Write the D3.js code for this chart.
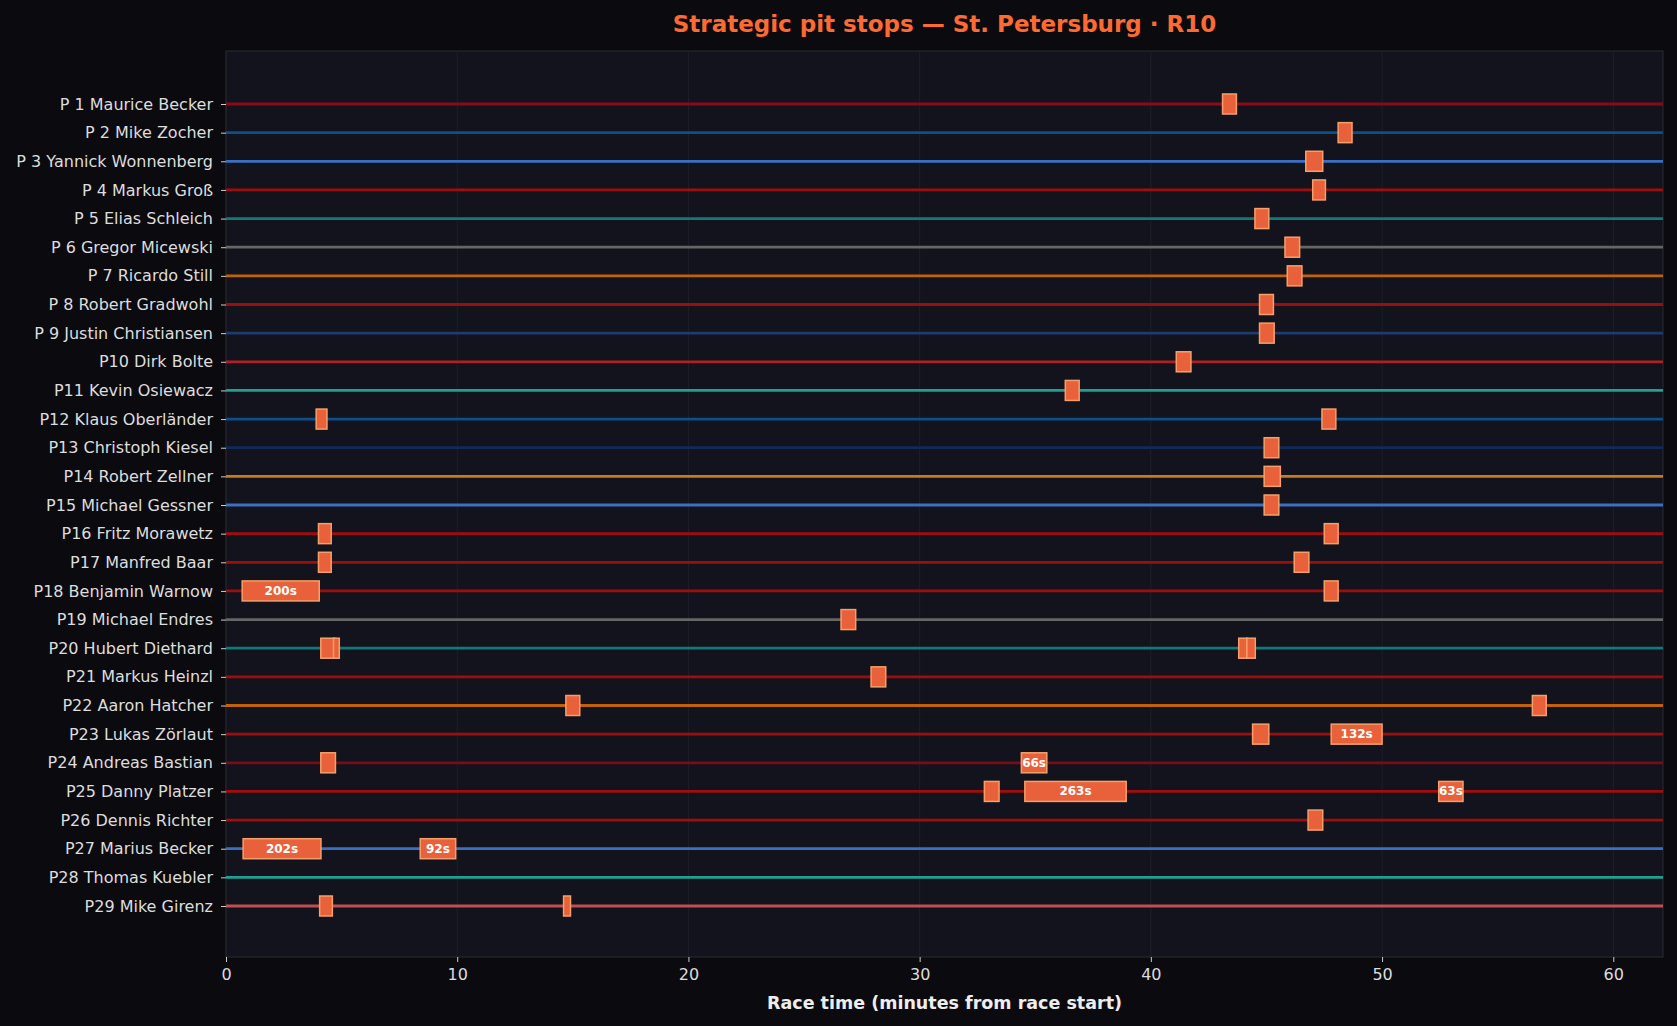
<!DOCTYPE html>
<html><head><meta charset="utf-8">
<script src="https://cdn.jsdelivr.net/npm/d3@7/dist/d3.min.js"></script>
<style>body{margin:0;background:#0b0b0f}svg{display:block}</style></head>
<body><svg id="c" width="1677" height="1026"></svg>
<script>
const drivers=["P 1 Maurice Becker","P 2 Mike Zocher","P 3 Yannick Wonnenberg","P 4 Markus Groß","P 5 Elias Schleich","P 6 Gregor Micewski","P 7 Ricardo Still","P 8 Robert Gradwohl","P 9 Justin Christiansen","P10 Dirk Bolte","P11 Kevin Osiewacz","P12 Klaus Oberländer","P13 Christoph Kiesel","P14 Robert Zellner","P15 Michael Gessner","P16 Fritz Morawetz","P17 Manfred Baar","P18 Benjamin Warnow","P19 Michael Endres","P20 Hubert Diethard","P21 Markus Heinzl","P22 Aaron Hatcher","P23 Lukas Zörlaut","P24 Andreas Bastian","P25 Danny Platzer","P26 Dennis Richter","P27 Marius Becker","P28 Thomas Kuebler","P29 Mike Girenz"];
const lineColors=["#8b0a1a","#0d4f8b","#3a6fc4","#a00d0d","#0f7b78","#666666","#c0620a","#9a0e0e","#1f3a6e","#b02020","#1fa090","#0d4f8b","#102a5a","#c77a1e","#3a6fc4","#a00d0d","#a00d0d","#a00d0d","#666666","#0f7b78","#a00d0d","#c0620a","#a00d0d","#7a0c18","#a00d0d","#a00d0d","#3a6fc4","#1fa090","#c05050"];
// stops: [driver index, start minute, duration seconds]
const stopDriver=[0,1,2,3,4,5,6,7,8,9,10,11,11,12,13,14,15,15,16,16,17,17,18,19,19,19,19,20,21,21,22,22,23,23,24,24,24,25,26,26,28,28];
const stopStart=[43.1,48.1,46.7,47.0,44.5,45.8,45.9,44.7,44.7,41.1,36.3,3.9,47.4,44.9,44.9,44.9,4.0,47.5,4.0,46.2,0.7,47.5,26.6,4.1,4.65,43.8,44.15,27.9,14.7,56.5,44.4,47.8,4.1,34.4,32.8,34.55,52.45,46.8,0.74,8.4,4.05,14.6];
const stopDur=[36,36,44,33,36,38,38,36,38,38,36,28,36,38,42,38,33,36,33,38,200,36,38,36,15,22,22,38,36,36,42,132,38,66,38,263,63,38,202,92,33,18];
const xTicks=[0,10,20,30,40,50,60];

const svg=d3.select("#c");
const L=226,R=1663,T=51,B=957;
const x=d3.scaleLinear().domain([0,62.15]).range([L,R]);
const y=d3.scalePoint().domain(drivers).range([104,906]);
svg.append("rect").attr("x",L).attr("y",T).attr("width",R-L).attr("height",B-T).attr("fill","#12131c").attr("stroke","#2a2b35");
svg.append("g").selectAll("line").data(xTicks).join("line").attr("x1",d=>x(d)).attr("x2",d=>x(d)).attr("y1",T).attr("y2",B).attr("stroke","#1e1f2a").attr("stroke-width",1);
svg.append("g").selectAll("line").data(drivers).join("line").attr("x1",L).attr("x2",R).attr("y1",d=>y(d)).attr("y2",d=>y(d)).attr("stroke",(d,i)=>lineColors[i]).attr("stroke-width",2.8);
const stops=stopDriver.map((d,i)=>({d,s:stopStart[i],dur:stopDur[i]}));
const g=svg.append("g");
g.selectAll("rect").data(stops).join("rect").attr("x",d=>x(d.s)).attr("width",d=>x(d.s+d.dur/60)-x(d.s)).attr("y",d=>y(drivers[d.d])-10).attr("height",20).attr("fill","#e8613a").attr("stroke","#f5a06a").attr("stroke-width",1.5);
g.selectAll("text").data(stops.filter(d=>d.dur>=60)).join("text").attr("x",d=>x(d.s+d.dur/120)).attr("y",d=>y(drivers[d.d])+4).attr("text-anchor","middle").attr("fill","#fff").attr("font-family","DejaVu Sans").attr("font-size",12).attr("font-weight","bold").text(d=>d.dur+"s");
const xa=svg.append("g").attr("transform",`translate(0,${B})`).call(d3.axisBottom(x).tickValues(xTicks).tickSize(5).tickPadding(7));
const ya=svg.append("g").attr("transform",`translate(${L},0)`).call(d3.axisLeft(y).tickSize(5).tickPadding(8));
[xa,ya].forEach(a=>{a.select(".domain").remove();a.selectAll("line").attr("stroke","#ccc");a.selectAll("text").attr("fill","#ddd").attr("font-family","DejaVu Sans").attr("font-size",16);});
svg.append("text").attr("x",(L+R)/2).attr("y",1009).attr("text-anchor","middle").attr("fill","#eee").attr("font-family","DejaVu Sans").attr("font-weight","bold").attr("font-size",17.5).text("Race time (minutes from race start)");
svg.append("text").attr("x",(L+R)/2).attr("y",32).attr("text-anchor","middle").attr("fill","#ff6a33").attr("font-family","DejaVu Sans").attr("font-weight","bold").attr("font-size",23).text("Strategic pit stops — St. Petersburg · R10");
</script></body></html>
